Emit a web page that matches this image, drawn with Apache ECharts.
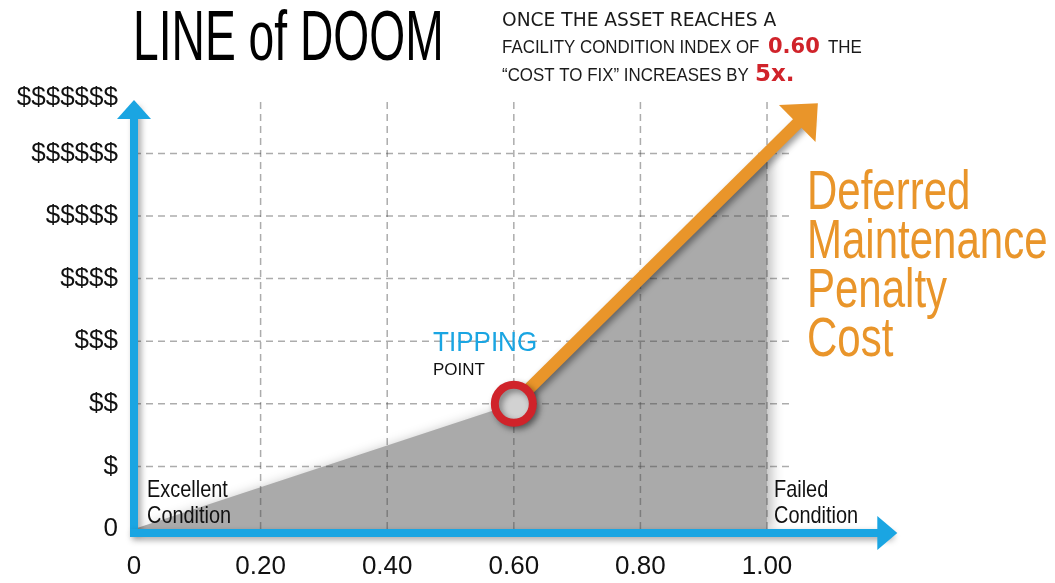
<!DOCTYPE html>
<html><head><meta charset="utf-8">
<script src="https://cdn.jsdelivr.net/npm/echarts@6/dist/echarts.min.js"></script>
<style>html,body{margin:0;padding:0;background:#fff}#c{width:1055px;height:583px}</style>
</head><body><div id="c"></div>
<script>
// ---- data ----
const xTickValues = [0, 0.2, 0.4, 0.6, 0.8, 1.0];
const xTickLabels = ['0', '0.20', '0.40', '0.60', '0.80', '1.00'];
const yTickValues = [0, 1, 2, 3, 4, 5, 6, 6.7];
const yTickLabels = ['0', '$', '$$', '$$$', '$$$$', '$$$$$', '$$$$$$', '$$$$$$$'];
const costCurveX = [0, 0.6, 1.0];
const costCurveY = [0, 2, 6];
const tippingPoint = [0.6, 2];
const penaltyArrowX = [0.6, 1.064];
const penaltyArrowY = [2, 6.64];
const gridYValues = [1, 2, 3, 4, 5, 6];
const gridXValues = [0.2, 0.4, 0.6, 0.8, 1.0];
const gridXExtent = [0, 1.04];
const gridYExtent = [0, 6.87];

const BLUE = '#1aa5e2', ORANGE = '#e9952a', RED = '#d0232a';

function lookup(vals, labels, v) {
  for (let i = 0; i < vals.length; i++) if (Math.abs(vals[i] - v) < 1e-6) return labels[i];
  return '';
}

const gridStyle = { color: 'rgba(70,70,70,0.45)', width: 1.5, type: [7, 5] };
const gridSeries = [];
gridYValues.forEach(y => gridSeries.push({
  type: 'line', data: [[gridXExtent[0], y], [gridXExtent[1], y]], symbol: 'none', clip: false,
  lineStyle: gridStyle, z: 3, silent: true
}));
gridXValues.forEach(x => gridSeries.push({
  type: 'line', data: [[x, gridYExtent[0]], [x, gridYExtent[1]]], symbol: 'none', clip: false,
  lineStyle: gridStyle, z: 3, silent: true
}));

function txt(x, y, text, font, fill, sx) {
  return {
    type: 'text', x: x, y: y, scaleX: sx || 1, silent: true, z: 50,
    style: { text: text, font: font, fill: fill, align: 'left', textAlign: 'left', verticalAlign: 'middle', textVerticalAlign: 'middle' }
  };
}

const chart = echarts.init(document.getElementById('c'));
chart.setOption({
  animation: false,
  backgroundColor: '#fff',
  grid: { left: 134, right: 167.7, top: 109.6, bottom: 54, containLabel: false },
  xAxis: {
    type: 'value', min: 0, max: 1.19, interval: 0.2, offset: 4, z: 10,
    axisLine: { show: true, onZero: false, symbol: ['none', 'triangle'], symbolSize: [34, 20],
      lineStyle: { color: BLUE, width: 8, cap: 'square', shadowBlur: 6, shadowColor: 'rgba(0,0,0,0.35)', shadowOffsetX: 2, shadowOffsetY: 3 } },
    axisTick: { show: false }, splitLine: { show: false },
    axisLabel: { customValues: xTickValues, margin: 21, fontSize: 26, fontFamily: 'Liberation Sans', color: '#111',
      showMinLabel: true, showMaxLabel: true, hideOverlap: false,
      formatter: v => lookup(xTickValues, xTickLabels, v) }
  },
  yAxis: {
    type: 'value', min: 0, max: 6.7, interval: 1, z: 10,
    axisLine: { show: true, onZero: false, symbol: ['none', 'triangle'], symbolSize: [34, 19],
      lineStyle: { color: BLUE, width: 8, cap: 'square', shadowBlur: 6, shadowColor: 'rgba(0,0,0,0.35)', shadowOffsetX: 3, shadowOffsetY: 2 } },
    axisTick: { show: false }, splitLine: { show: false },
    axisLabel: { customValues: yTickValues, margin: 16, fontSize: 26, fontFamily: 'Liberation Sans', color: '#111',
      showMinLabel: true, showMaxLabel: true, hideOverlap: false,
      formatter: v => {
        const s = lookup(yTickValues, yTickLabels, v);
        return v > 6.5 && s ? '{top|' + s + '}' : s;
      },
      rich: { top: { padding: [0, 0, 24, 0], fontSize: 26, fontFamily: 'Liberation Sans', color: '#111' } } }
  },
  series: [
    {
      type: 'line', data: costCurveX.map((x, i) => [x, costCurveY[i]]), symbol: 'none', z: 1, silent: true,
      lineStyle: { width: 0 },
      areaStyle: { color: '#aaaaaa', opacity: 1, shadowBlur: 12, shadowColor: 'rgba(0,0,0,0.25)', shadowOffsetX: 5 }
    },
    ...gridSeries,
    {
      type: 'line', data: [], z: 5, clip: false, silent: true,
      markLine: {
        silent: true, animation: false, label: { show: false },
        symbol: ['none', 'triangle'],
        lineStyle: { color: ORANGE, width: 12, type: 'solid', cap: 'butt', opacity: 1,
          shadowBlur: 6, shadowColor: 'rgba(0,0,0,0.4)', shadowOffsetX: 3, shadowOffsetY: 3 },
        itemStyle: { color: ORANGE },
        emphasis: { disabled: true },
        data: [[
          { coord: [penaltyArrowX[0], penaltyArrowY[0]], symbol: 'none' },
          { coord: [penaltyArrowX[1], penaltyArrowY[1]], symbol: 'triangle', symbolSize: [52, 29] }
        ]]
      }
    },
    {
      type: 'scatter', data: [tippingPoint], symbol: 'circle', symbolSize: 38, z: 6, silent: true,
      itemStyle: { color: '#d2d2d2', borderColor: RED, borderWidth: 8, opacity: 1,
        shadowBlur: 6, shadowColor: 'rgba(0,0,0,0.4)', shadowOffsetX: 3, shadowOffsetY: 3 }
    }
  ],
  graphic: [
    txt(133, 41, 'LINE of DOOM', '70px "Liberation Sans"', '#000', 0.66),
    txt(502, 21, 'ONCE THE ASSET REACHES A', '19px "DejaVu Sans"', '#1a1a1a', 0.98),
    txt(502, 48, 'FACILITY CONDITION INDEX OF', '19px "Liberation Sans"', '#1a1a1a', 0.89),
    txt(768, 48, '0.60', 'bold 21px "DejaVu Sans"', RED, 1),
    txt(828, 48, 'THE', '19px "Liberation Sans"', '#1a1a1a', 0.89),
    txt(502, 75.5, '\u201cCOST TO FIX\u201d INCREASES BY', '19px "Liberation Sans"', '#1a1a1a', 0.89),
    txt(755, 75, '5x.', 'bold 23px "DejaVu Sans"', RED, 1),
    txt(433, 343, 'TIPPING', '28px "Liberation Sans"', BLUE, 0.93),
    txt(433, 370, 'POINT', '17px "Liberation Sans"', '#111', 1),
    txt(147, 490, 'Excellent', '24px "Liberation Sans"', '#111', 0.83),
    txt(147, 516, 'Condition', '24px "Liberation Sans"', '#111', 0.83),
    txt(774, 490, 'Failed', '24px "Liberation Sans"', '#111', 0.83),
    txt(774, 516, 'Condition', '24px "Liberation Sans"', '#111', 0.83),
    {
      type: 'text', x: 807, y: 169.5, scaleX: 0.75, silent: true, z: 50,
      style: { text: 'Deferred\nMaintenance\nPenalty\nCost', font: '56px "Liberation Sans"', fill: ORANGE,
        lineHeight: 49, align: 'left', textAlign: 'left', verticalAlign: 'top', textVerticalAlign: 'top' }
    }
  ]
});
</script>
</body></html>
